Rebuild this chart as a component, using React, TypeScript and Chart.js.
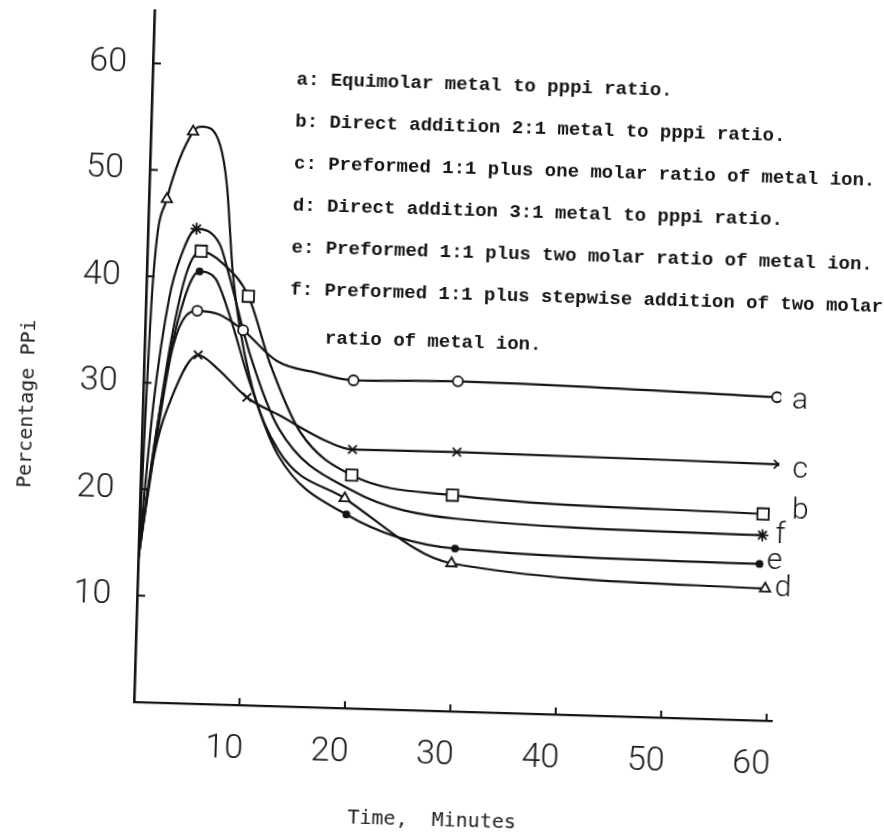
import React, { useEffect, useRef } from "react";
import { Chart, registerables } from "chart.js";

Chart.register(...registerables);

// ---- data (time in minutes, percentage PPi) ----
const aTime = [0, 1.3, 2.7, 4.9, 7, 9.3, 12.6, 16.4, 19.9, 29.8, 60.1];
const aValue = [13.5, 24, 33.5, 36.9, 36.6, 35.2, 32.4, 31.4, 30.8, 31.0, 30.4];
const aMark = [0, 0, 0, 1, 0, 1, 0, 0, 1, 1, 1];

const bTime = [0, 1.2, 2.5, 3.8, 5.1, 7.2, 9.7, 12, 15, 20, 29.6, 59.1];
const bValue = [13.5, 24, 34, 40.5, 42.5, 41.4, 38.4, 32, 25.8, 21.9, 20.3, 19.4];
const bMark = [0, 0, 0, 0, 1, 0, 1, 0, 0, 1, 1, 1];

const cTime = [0, 1.1, 2.8, 5.1, 7, 9.85, 13, 17.8, 20, 29.9, 60.4];
const cValue = [13.5, 22.6, 28.9, 32.75, 31.5, 28.9, 27.3, 24.9, 24.3, 24.35, 24.1];
const cMark = [0, 0, 0, 1, 0, 1, 0, 0, 1, 1, 1];

const dTime = [0, 0.6, 1.7, 4.0, 4.9, 6.6, 7.35, 8.2, 10, 13, 19.4, 29.7, 59.5];
const dValue = [13.5, 39.3, 47.3, 53.7, 54.2, 52.5, 48.8, 40.2, 31, 24, 19.7, 13.9, 12.4];
const dMark = [0, 0, 1, 1, 0, 0, 0, 0, 0, 0, 1, 1, 1];

const eTime = [0, 1.3, 3, 5.0, 6.5, 8, 10, 13, 19.6, 30, 58.9];
const eValue = [13.5, 25, 35.5, 40.6, 40, 36.5, 30.5, 23.5, 18.2, 15.3, 14.7];
const eMark = [0, 0, 0, 1, 0, 0, 0, 0, 1, 1, 1];

const fTime = [0, 1, 2.2, 3.2, 4.6, 6.85, 7.7, 10, 13, 20, 30, 59.1];
const fValue = [13.5, 28, 38, 42, 44.6, 43.2, 40.7, 33, 26, 20.5, 18.1, 17.4];
const fMark = [0, 0, 0, 0, 1, 0, 0, 0, 0, 0, 0, 1];

const seriesNames = ["a", "b", "c", "d", "e", "f"];

const legendLines = [
  "a: Equimolar metal to pppi ratio.",
  "b: Direct addition 2:1 metal to pppi ratio.",
  "c: Preformed 1:1 plus one molar ratio of metal ion.",
  "d: Direct addition 3:1 metal to pppi ratio.",
  "e: Preformed 1:1 plus two molar ratio of metal ion.",
  "f: Preformed 1:1 plus stepwise addition of two molar",
  "ratio of metal ion.",
];

const xTickValues = [10, 20, 30, 40, 50, 60];
const yTickValues = [10, 20, 30, 40, 50, 60];
const xTitle = "Time,  Minutes";
const yTitle = "Percentage PPi";

// ---- styles ----
const INK = "#141414";
const W = 884;
const H = 837;

const series = [
  { name: "a", t: aTime, v: aValue, m: aMark, style: "circle", r: 5, fill: "#fff", off: [23, 3] },
  { name: "b", t: bTime, v: bValue, m: bMark, style: "rect", r: 8, fill: "#fff", off: [37, -4] },
  { name: "c", t: cTime, v: cValue, m: cMark, style: "crossRot", r: 6, fill: "#fff", off: [22, 5] },
  { name: "d", t: dTime, v: dValue, m: dMark, style: "triangle", r: 6, fill: "#fff", off: [18, 0] },
  { name: "e", t: eTime, v: eValue, m: eMark, style: "circle", r: 3, fill: INK, off: [15, -3] },
  { name: "f", t: fTime, v: fValue, m: fMark, style: "star", r: 6, fill: INK, off: [18, 0] },
];

const decorations = {
  id: "decorations",
  afterDraw(chart: any) {
    const { ctx, scales } = chart;
    const x = scales.x;
    const y = scales.y;
    ctx.save();
    // inner tick marks
    ctx.strokeStyle = INK;
    ctx.lineWidth = 2;
    for (const v of yTickValues) {
      const py = y.getPixelForValue(v);
      ctx.beginPath();
      ctx.moveTo(x.left, py);
      ctx.lineTo(x.left + 8, py);
      ctx.stroke();
    }
    for (const v of xTickValues) {
      const px = x.getPixelForValue(v);
      ctx.beginPath();
      ctx.moveTo(px, y.bottom);
      ctx.lineTo(px, y.bottom - 7);
      ctx.stroke();
    }
    // legend text block
    ctx.fillStyle = INK;
    ctx.textAlign = "left";
    ctx.textBaseline = "middle";
    ctx.font = 'bold 19px "Liberation Mono", "DejaVu Sans Mono", monospace';
    const lx = x.left + 144;
    legendLines.forEach((line, i) => {
      const indent = i === legendLines.length - 1 ? 36 : 0;
      const extra = i === legendLines.length - 1 ? 6 : 0;
      ctx.fillText(line, lx + indent, 75 + i * 42 + extra);
    });
    // curve end labels
    ctx.font = '300 30px Roboto, "DejaVu Sans", sans-serif';
    ctx.textAlign = "center";
    chart.data.datasets.forEach((ds: any, i: number) => {
      const last = ds.data[ds.data.length - 1];
      const px = x.getPixelForValue(last.x);
      const py = y.getPixelForValue(last.y);
      const off = series[i].off;
      ctx.fillText(seriesNames[i], px + off[0], py + off[1]);
    });
    // axis titles
    ctx.font = '20px "DejaVu Sans Mono", monospace';
    ctx.fillStyle = "#222";
    ctx.textAlign = "center";
    ctx.fillText(xTitle, 435, 812);
    ctx.translate(19, 407);
    ctx.rotate(-Math.PI / 2);
    ctx.fillText(yTitle, 0, 0);
    ctx.restore();
  },
};

export default function App() {
  const ref = useRef<HTMLCanvasElement | null>(null);

  useEffect(() => {
    if (!ref.current) return;
    const datasets = series.map((s) => ({
      label: s.name,
      data: s.t.map((t, i) => ({ x: t, y: s.v[i] })),
      borderColor: INK,
      borderWidth: 2.2,
      cubicInterpolationMode: "monotone" as const,
      fill: false,
      pointStyle: s.style,
      pointRadius: s.m.map((f) => (f ? s.r : 0)),
      pointBorderColor: INK,
      pointBorderWidth: 1.8,
      pointBackgroundColor: s.fill,
    }));

    const tickFont = { family: "Roboto, 'DejaVu Sans', sans-serif", size: 34, weight: "300" as any };

    const chart = new Chart(ref.current, {
      type: "line",
      data: { datasets },
      plugins: [decorations],
      options: {
        animation: false,
        responsive: false,
        devicePixelRatio: 1,
        layout: { padding: { left: 0, top: 4, right: 112, bottom: 0 } },
        plugins: { legend: { display: false }, tooltip: { enabled: false } },
        scales: {
          x: {
            type: "linear",
            min: 0,
            max: 60.5,
            grid: { display: false },
            border: { display: true, color: INK, width: 2.2 },
            ticks: {
              stepSize: 10,
              includeBounds: false,
              autoSkip: false,
              maxRotation: 0,
              padding: 16,
              labelOffset: -14,
              color: "#1a1a1a",
              font: tickFont,
              callback: (v: any) => (xTickValues.includes(Number(v)) ? String(v) : ""),
            },
            afterFit: (scale: any) => {
              scale.height = H - 702;
              scale.paddingLeft = 0;
              scale.paddingRight = 0;
            },
          },
          y: {
            type: "linear",
            min: 0,
            max: 65,
            grid: { display: false },
            border: { display: true, color: INK, width: 2.6 },
            ticks: {
              stepSize: 10,
              includeBounds: false,
              autoSkip: false,
              padding: 18,
              color: "#1a1a1a",
              font: tickFont,
              callback: (v: any) => (yTickValues.includes(Number(v)) ? String(v) : ""),
            },
            afterFit: (scale: any) => {
              scale.width = 134;
              scale.paddingTop = 0;
              scale.paddingBottom = 0;
            },
          },
        },
      },
    });
    return () => chart.destroy();
  }, []);

  return (
    <div
      style={{
        position: "absolute",
        left: 0,
        top: 0,
        width: W,
        height: H,
        overflow: "hidden",
        background: "#fff",
      }}
    >
      <div
        style={{
          width: W,
          height: H,
          transform: "rotate(1.7deg)",
          transformOrigin: "134px 702px",
        }}
      >
        <canvas ref={ref} width={W} height={H} style={{ display: "block" }} />
      </div>
    </div>
  );
}
